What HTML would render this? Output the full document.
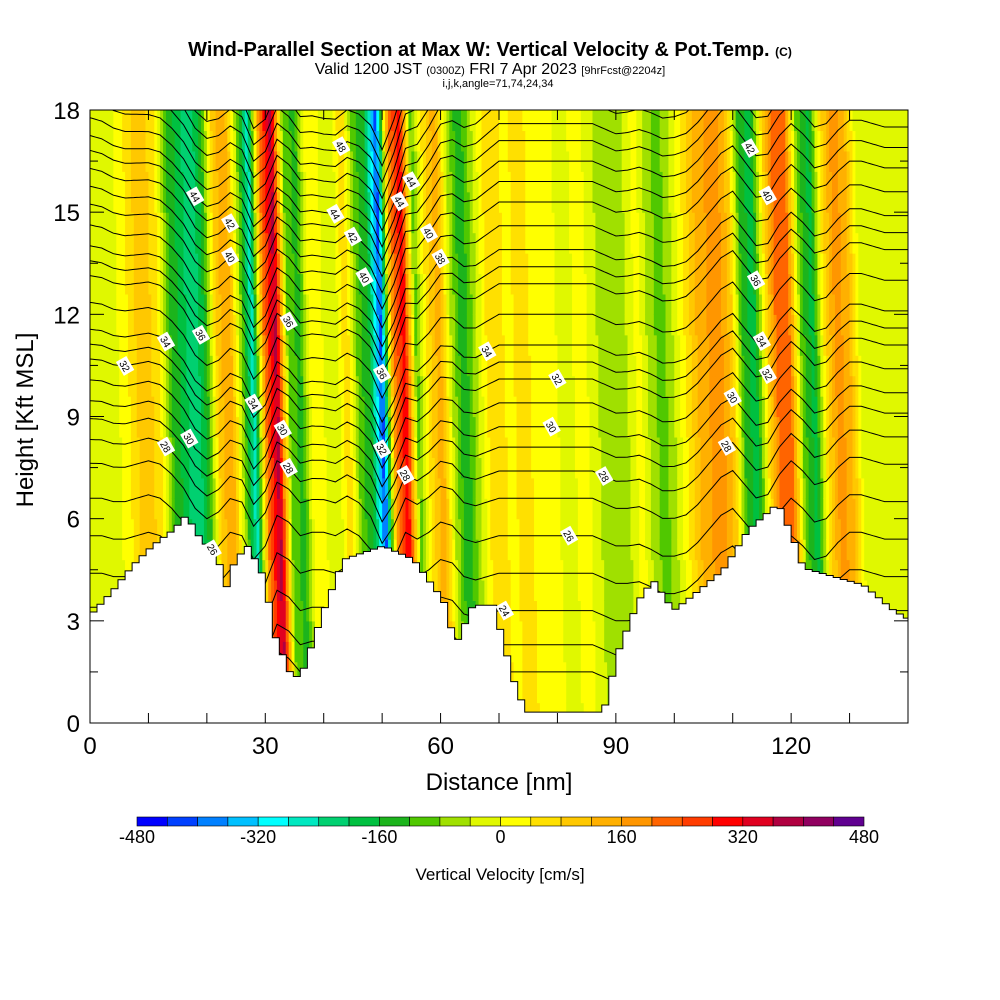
<!DOCTYPE html>
<html><head><meta charset="utf-8"><style>
body{margin:0;background:#fff;font-family:"Liberation Sans",sans-serif}
svg{display:block}
</style></head><body>
<svg id="c" width="1000" height="1000" viewBox="0 0 1000 1000">
<text x="490" y="56" font-size="20" font-weight="bold" text-anchor="middle">Wind-Parallel Section at Max W: Vertical Velocity &amp; Pot.Temp. <tspan font-size="12">(C)</tspan></text>
<text x="490" y="74" font-size="16" text-anchor="middle">Valid 1200 JST <tspan font-size="11">(0300Z)</tspan> FRI 7 Apr 2023 <tspan font-size="11">[9hrFcst@2204z]</tspan></text>
<text x="498" y="87" font-size="11" text-anchor="middle">i,j,k,angle=71,74,24,34</text>
<defs><clipPath id="pc"><rect x="90" y="110" width="818" height="613"/></clipPath></defs>
<g id="heat" clip-path="url(#pc)"></g>
<g id="cont" clip-path="url(#pc)"></g>
<g id="terr" clip-path="url(#pc)"></g>
<g id="labs" clip-path="url(#pc)"></g>
<rect x="90" y="110" width="818" height="613" fill="none" stroke="#000" stroke-width="1"/>
<g id="axes"></g>
<text x="0" y="0" font-size="24" text-anchor="middle" transform="translate(33,420) rotate(-90)">Height [Kft MSL]</text>
<text x="499" y="790" font-size="24" text-anchor="middle">Distance [nm]</text>
<g id="cbar"></g>
<text x="500" y="880" font-size="17" text-anchor="middle">Vertical Velocity [cm/s]</text>
</svg>
<script>
// ---- data ----
const wDist = [0,2,4,6,8,10,12,14,16,18,20,22,24,26,28,30,32,34,36,38,40,42,44,46,48,50,52,54,56,58,60,62,64,66,68,70,72,74,76,78,80,82,84,86,88,90,92,94,96,98,100,102,104,106,108,110,112,114,116,118,120,122,124,126,128,130,132,134,136,138,140];
const wVals = [-10,-20,-20,20,80,100,40,-120,-180,-240,-140,100,160,-60,-280,200,380,-80,-140,30,0,-40,80,-100,-160,-420,180,320,-100,60,150,-40,-160,-60,40,60,20,80,20,40,0,-20,30,-20,-60,-80,-40,20,-60,-100,-40,40,120,160,180,100,-140,-180,60,240,200,-100,-180,60,180,140,-10,-20,-20,-10,-10];
const dispVals = [1.1,1.1,1.0,1.0,1.1,1.2,1.1,0.8,0.4,-0.2,-0.5,-0.3,0.1,0.0,-0.7,-0.3,0.6,0.4,0.0,0.1,0.1,0.0,0.2,0.0,-0.4,-1.2,-0.7,0.1,-0.1,0.1,0.4,0.3,-0.1,-0.2,-0.1,0,0,0,0,0,0,0,0,0,-0.15,-0.3,-0.3,-0.25,-0.4,-0.6,-0.6,-0.5,-0.2,0.2,0.6,0.8,0.4,0.0,0.1,0.7,1.1,0.8,0.4,0.5,0.9,1.2,1.2,1.1,1.0,1.0,1.0];
const topDist = [0,10,20,30,40,50,60,70,80,90,100,110,120,130,140];
const topVals = [-1.5,-2,-2,-2.5,-2.8,-2.5,-1,0,0,0,0.2,0.3,0,0,0];
const thetaLevels = [22,23,24,25,26,27,28,29,30,31,32,33,34,35,36,37,38,39,40,41,42,43,44,45,46,47,48,49,50];
const thetaHeights = [1.5,2.3,3.3,4.4,5.5,6.6,7.4,8.1,8.7,9.4,10.1,10.6,11.1,12.0,12.9,13.4,13.9,14.6,15.3,15.9,16.5,17.1,17.6,18.2,18.8,19.4,20.0,20.6,21.2];
const terrDist = [0,3.4,6.8,10.3,13.7,15.9,18,21.4,22.6,24.3,26.5,29.4,30.8,34.2,35.9,39.4,42.8,49.6,54.8,59.9,62,65,68.5,71.9,74,87.3,89.9,93.3,95.8,99.3,102.7,107.8,112.1,117.2,119.8,121.5,131.8,137,140];
const terrH = [3.26,3.9,4.64,5.23,5.67,6.1,5.5,4.8,3.9,4.8,5.2,4.2,2.67,1.26,1.56,3.3,4.8,5.2,4.8,3.6,2.3,3.46,3.46,1.26,0.32,0.32,2.14,3.6,4.2,3.3,3.76,4.5,5.67,6.46,5.4,4.55,4.05,3.3,3.0];
const labelThetas = [44,42,40,36,34,32,30,28,26,48,44,42,40,36,34,30,28,44,36,32,28,44,40,38,34,32,30,28,26,24,44,42,40,36,34,32,30,28];
const labelDists  = [18,24,24,19,13,6,17,13,21,43,42,45,47,34,28,33,34,53,50,50,54,55,58,60,68,80,79,88,82,71,106,113,116,114,115,116,110,109];
const cbTicks = [-480,-320,-160,0,160,320,480];
const palette = ["#0000ff","#0040ff","#0080ff","#00c0ff","#00ffff","#00e8c0","#00d070","#00c040","#1cb41c","#50c800","#a0e000","#e0f800","#ffff00","#ffe000","#ffc800","#ffb000","#ff9600","#ff6400","#ff3c00","#ff0000","#e00020","#b00040","#900060","#600090"];
// ---- scales ----
const NS="http://www.w3.org/2000/svg";
const X=d=>90+d*818/140, Y=h=>723-h*613/18;
function interp(xs,ys,x){if(x<=xs[0])return ys[0];for(let i=1;i<xs.length;i++){if(x<=xs[i]){const t=(x-xs[i-1])/(xs[i]-xs[i-1]);return ys[i-1]+t*(ys[i]-ys[i-1]);}}return ys[ys.length-1];}
function colorFor(w){let i=Math.floor((w+480)/40);i=Math.max(0,Math.min(23,i));return palette[i];}
function mk(tag,attrs,parent){const e=document.createElementNS(NS,tag);for(const k in attrs)e.setAttribute(k,attrs[k]);parent.appendChild(e);return e;}
// heatmap
const heat=document.getElementById('heat');
const DW=0.5, DH=0.6;
for(let d=0;d<140;d+=DW){for(let h=0;h<18;h+=DH){
  const w=interp(wDist,wVals,d+DW/2+0.15*(h+DH/2-10));
  const r=mk('rect',{x:X(d).toFixed(2),y:Y(h+DH).toFixed(2),width:(818/140*DW+0.6).toFixed(2),height:(613/18*DH+0.6).toFixed(2),fill:colorFor(w)},heat);
  
  
}}
// contours
function thetaY(H0,d){const top=interp(topDist,topVals,d)*Math.max(0,(H0-6)/12);return H0+interp(wDist,dispVals,d)+top;}
const cont=document.getElementById('cont');
thetaLevels.forEach((th,i)=>{const H0=thetaHeights[i];let p='';
  for(let d=0;d<=140;d+=0.5){p+=(d?'L':'M')+X(d).toFixed(1)+','+Y(thetaY(H0,d)).toFixed(1);}
  const e=mk('path',{d:p,fill:'none',stroke:'#000','stroke-width':1},cont);
  
  
});
// terrain
const terr=document.getElementById('terr');
let tp='M'+X(0)+','+Y(0);
for(let d=0;d<=140;d+=1.2){const h=interp(terrDist,terrH,d);tp+='L'+X(d).toFixed(1)+','+Y(h).toFixed(1)+'L'+X(Math.min(140,d+1.2)).toFixed(1)+','+Y(h).toFixed(1);}
tp+='L'+X(140)+','+Y(0)+'Z';
const te=mk('path',{d:tp,fill:'#fff',stroke:'#000','stroke-width':1},terr);


// contour labels
const labs=document.getElementById('labs');
labelThetas.forEach((th,i)=>{const d=labelDists[i];const k=thetaLevels.indexOf(th);if(k<0||d===undefined)return;
  const h=thetaY(thetaHeights[k],d);if(h>17.8||h<interp(terrDist,terrH,d))return;
  const g=mk('g',{transform:`translate(${X(d).toFixed(1)},${Y(h).toFixed(1)}) rotate(60)`},labs);
  
  
  mk('rect',{x:-8,y:-6,width:16,height:12,fill:'#fff'},g);
  const t=mk('text',{x:0,y:4,'font-size':10,'text-anchor':'middle'},g);t.textContent=th;
});
// axes
const ax=document.getElementById('axes');
for(let d=0;d<=140;d+=10){const x=X(d);
  mk('line',{x1:x,y1:723,x2:x,y2:713,stroke:'#000'},ax);mk('line',{x1:x,y1:110,x2:x,y2:120,stroke:'#000'},ax);
  if(d%30===0){const t=mk('text',{x:x,y:754,'font-size':24,'text-anchor':'middle'},ax);t.textContent=d;}}
for(let h=0;h<=18;h+=1.5){const y=Y(h);const L=(h%3===0)?14:8;
  mk('line',{x1:90,y1:y,x2:90+L,y2:y,stroke:'#000'},ax);mk('line',{x1:908,y1:y,x2:908-L,y2:y,stroke:'#000'},ax);
  if(h%3===0){const t=mk('text',{x:80,y:y+9,'font-size':24,'text-anchor':'end'},ax);t.textContent=h;}}
// colorbar
const cb=document.getElementById('cbar');const cw=(864-137)/24;
palette.forEach((c,i)=>{const r=mk('rect',{x:137+i*cw,y:817,width:cw,height:9,fill:c,stroke:'#000','stroke-width':0.6},cb);
  });
cbTicks.forEach(v=>{const t=mk('text',{x:137+(v+480)/960*727,y:843,'font-size':18,'text-anchor':'middle'},cb);t.textContent=v;
  });
</script>
</body></html>
